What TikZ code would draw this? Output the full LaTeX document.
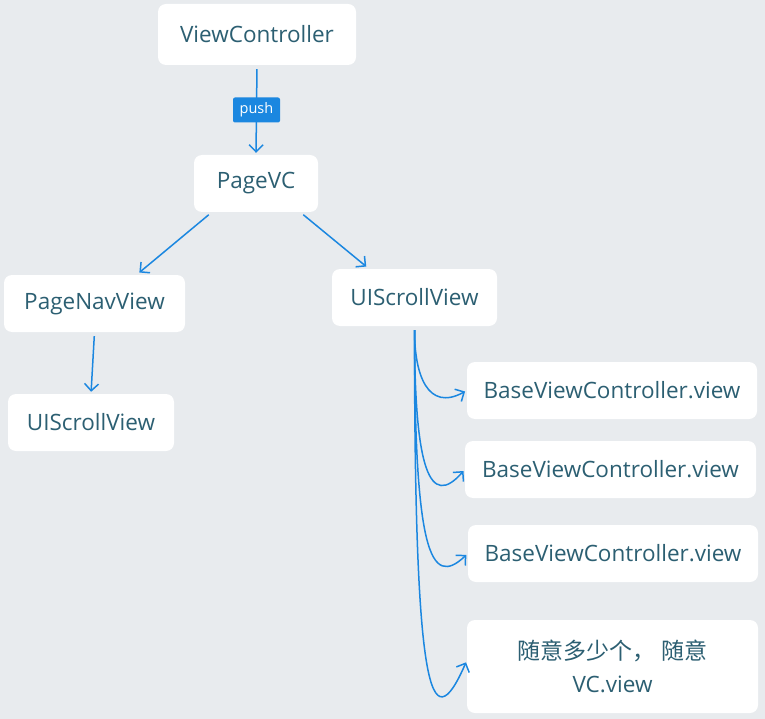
\documentclass[tikz,border=0pt]{standalone}
\usepackage{fontspec}
\setmainfont{Open Sans}
\newfontfamily\cjk{Noto Sans CJK SC}
\usetikzlibrary{arrows.meta}
\definecolor{bgray}{HTML}{E8EBEE}
\definecolor{txt}{HTML}{2C5F72}
\definecolor{lnk}{HTML}{1B87E0}

\begin{document}
\begin{tikzpicture}[x=1pt,y=1pt,
	box/.style={fill=white,rounded corners=8pt,text=txt,inner sep=0pt,
		font=\fontsize{22.5}{33}\selectfont},
	tag/.style={fill=lnk,rounded corners=2pt,text=white,inner sep=0pt,
		minimum width=47pt,minimum height=25pt,font=\fontsize{14.5}{16}\selectfont},
	link/.style={draw=lnk,line width=1.5pt,shorten <=4pt,shorten >=2pt,
		-{Straight Barb[length=7pt,width=14pt,line width=1.5pt]}}]
	% background
	\fill[bgray] (0,0) rectangle (765,-719);
	\useasboundingbox (0,0) rectangle (765,-719);
	% boxes
	\node[box,minimum width=198pt,minimum height=61pt] (vc) at (257,-34.5) {ViewController};
	\node[box,minimum width=124pt,minimum height=57pt] (pagevc) at (256,-183.5) {PageVC};
	\node[box,minimum width=181pt,minimum height=57pt] (pagenav) at (94.5,-303.5) {PageNavView};
	\node[box,minimum width=166pt,minimum height=57pt] (lscroll) at (91,-422.5) {UIScrollView};
	\node[box,minimum width=165pt,minimum height=57pt] (rscroll) at (414.5,-297.5) {UIScrollView};
	\node[box,minimum width=290pt,minimum height=57pt] (base1) at (612,-390.5) {BaseViewController.view};
	\node[box,minimum width=291pt,minimum height=57pt] (base2) at (610.5,-469.5) {BaseViewController.view};
	\node[box,minimum width=290pt,minimum height=57pt] (base3) at (613,-553.5) {BaseViewController.view};
	\node[box,minimum width=291pt,minimum height=93pt,align=center] (any) at (612.5,-666.5)
		{{\cjk\fontsize{23}{33}\selectfont 随意多少个， 随意}\\VC.view};
	% connectors
	\draw[link] (vc.south) -- node[tag] (push) {push} (pagevc.north);
	\draw[link] ([xshift=18pt]pagevc.south west) -- ([xshift=134pt,yshift=1pt]pagenav.north west);
	\draw[link] ([xshift=-18pt]pagevc.south east) -- ([xshift=36pt,yshift=1pt]rscroll.north west);
	\draw[link] (pagenav.south) -- (lscroll.north);
	\foreach \t/\a/\bx/\by in {base1/49/39/21.5, base2/144/35/40, base3/224/38/36}
	\draw[link] (rscroll.south) .. controls +(0,-\a) and +(-\bx,-\by) .. (\t.west);
	\draw[link] (rscroll.south) .. controls +(0,-364) and +(-37,-85) .. ([yshift=6pt]any.west);
\end{tikzpicture}
\end{document}
